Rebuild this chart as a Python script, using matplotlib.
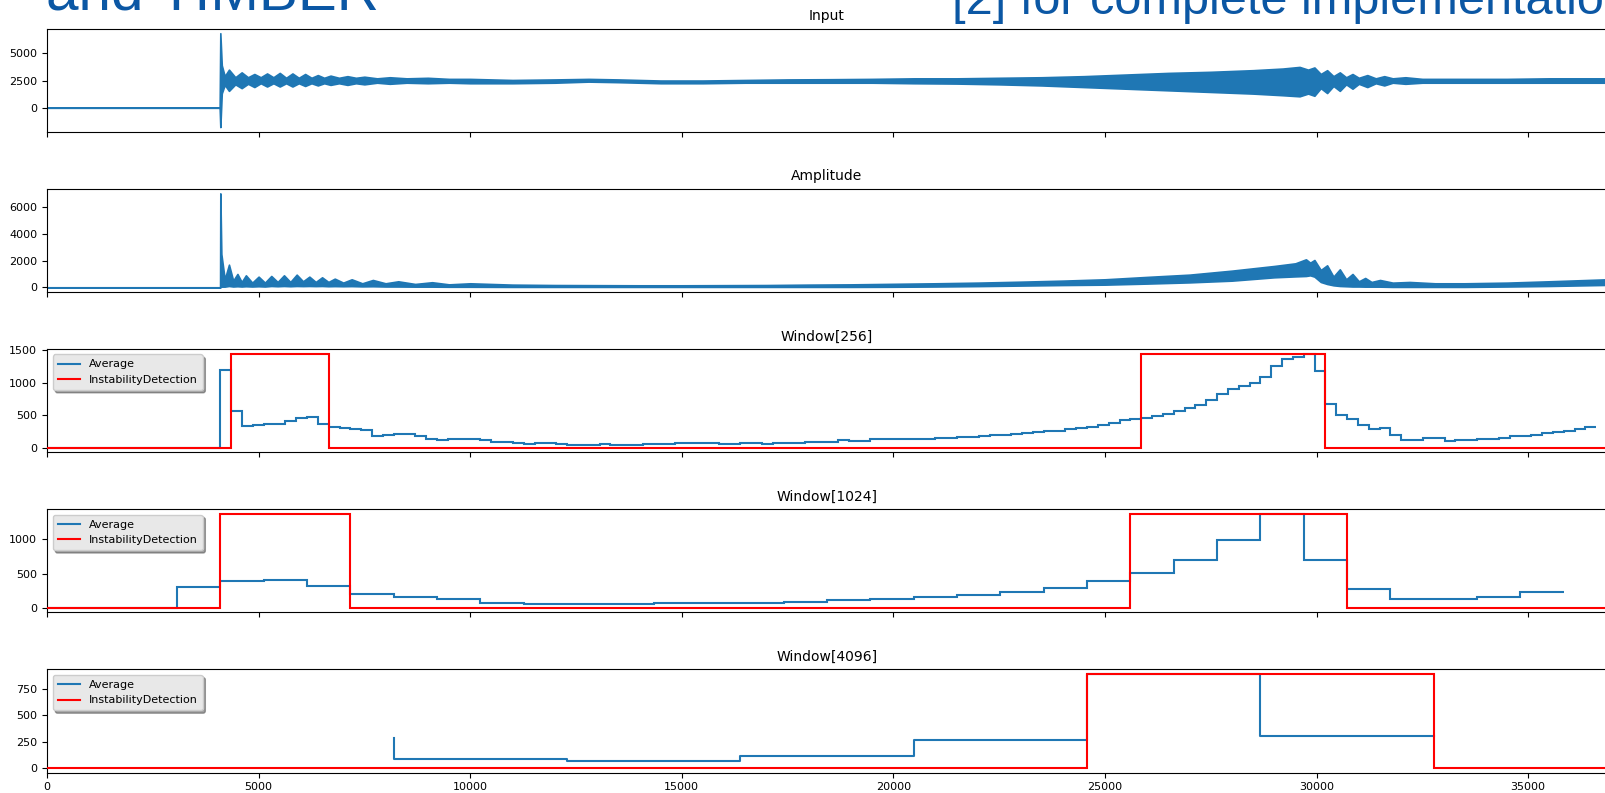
import numpy as np
import matplotlib
matplotlib.use("Agg")
import matplotlib.pyplot as plt
from matplotlib.lines import Line2D

# ---------------------------------------------------------------- data
N_SAMPLES = 36864

# Input signal, drawn as its oscillation envelope (sample, upper, lower)
input_x = [0, 4080, 4096, 4130, 4200, 4300, 4450, 4600, 4750, 4900, 5050, 5200,
           5350, 5500, 5650, 5800, 5950, 6100, 6250, 6400, 6550, 6700, 6900,
           7100, 7300, 7500, 7800, 8100, 8500, 9000, 9500, 10000, 11000, 12000,
           12800, 13500, 14500, 15500, 16500, 17500, 18500, 19500, 20500, 21500,
           22500, 23500, 24500, 25500, 26500, 27500, 28500, 29200, 29600, 29800,
           29950, 30100, 30250, 30400, 30550, 30700, 30850, 31000, 31200, 31400,
           31600, 31800, 32100, 32500, 33500, 34500, 35500, 36864]
input_hi = [0, 0, 6850, 3900, 2900, 3500, 2800, 3250, 2800, 3100, 2800, 3150,
            2800, 3200, 2750, 3150, 2750, 3100, 2750, 3000, 2750, 2950, 2750,
            2900, 2750, 2850, 2700, 2800, 2700, 2750, 2650, 2650, 2550, 2600,
            2650, 2600, 2500, 2500, 2550, 2600, 2620, 2650, 2700, 2700,
            2750, 2800, 2900, 3050, 3200, 3300, 3450, 3600, 3750, 3500,
            3700, 3100, 3450, 2900, 3250, 2800, 3100, 2750, 3000, 2700,
            2900, 2700, 2800, 2650, 2650, 2650, 2700, 2700]
input_lo = [0, 0, -1780, 1320, 2100, 1550, 2150, 1800, 2200, 1900, 2250, 1950,
            2250, 1950, 2250, 1950, 2250, 2000, 2250, 2050, 2250, 2100, 2250,
            2100, 2250, 2150, 2300, 2200, 2300, 2250, 2300, 2250, 2250, 2300,
            2400, 2350, 2250, 2250, 2300, 2300, 2300, 2300, 2250, 2220,
            2150, 2050, 1900, 1750, 1600, 1450, 1300, 1150, 1050, 1300,
            1100, 1800, 1350, 2000, 1550, 2150, 1750, 2200, 1900, 2250,
            2050, 2300, 2200, 2300, 2300, 2300, 2300, 2300]

# Amplitude, drawn as its envelope (sample, upper, lower)
amp_x = [0, 4090, 4096, 4120, 4200, 4300, 4400, 4500, 4600, 4700, 4850, 5000,
         5150, 5300, 5450, 5600, 5750, 5900, 6050, 6200, 6350, 6500, 6650,
         6800, 7000, 7200, 7450, 7700, 8000, 8300, 8700, 9100, 9500, 10000,
         11000, 12000, 13000, 14000, 15000, 16000, 17000, 18000, 19000, 20000,
         21000, 22000, 23000, 24000, 25000, 26000, 27000, 28000, 29000, 29500,
         29750, 29850, 29950, 30100, 30250, 30400, 30550, 30700, 30850, 31000,
         31150, 31300, 31500, 31800, 32200, 32800, 33500, 34500, 35500, 36864]
amp_hi = [0, 0, 7050, 2500, 600, 1700, 500, 1000, 400, 900, 350, 800,
          350, 850, 400, 900, 400, 950, 450, 800, 400, 750, 400,
          650, 350, 600, 300, 550, 300, 450, 250, 380, 220, 300,
          200, 170, 160, 150, 150, 160, 170, 200, 220, 260,
          300, 350, 420, 500, 600, 780, 950, 1250, 1600, 1800,
          2100, 1850, 2050, 1300, 1650, 800, 1350, 600, 1000, 450,
          700, 400, 550, 350, 400, 300, 300, 350, 450, 600]
amp_lo = [0, 0, 0, 50, 50, 100, 60, 80, 60, 80, 60, 80,
          60, 100, 80, 100, 80, 100, 90, 100, 90, 100, 80,
          90, 80, 90, 70, 80, 60, 60, 50, 50, 40, 40,
          30, 30, 30, 30, 30, 30, 30, 30, 30, 40,
          60, 90, 130, 170, 200, 280, 370, 500, 750, 820,
          850, 900, 800, 400, 250, 150, 100, 80, 60, 60,
          50, 50, 50, 30, 30, 30, 30, 60, 100, 180]

# Window[256]: average per 256-sample window
win256 = [0] * 16 + [
    1200, 560, 334, 349, 359, 359, 405, 461, 471, 364, 323, 307, 282, 267,
    185, 195, 205, 205, 185, 134, 118, 139, 134, 134, 118, 92, 92, 72, 56,
    72, 72, 56, 46, 46, 46, 56, 46, 46, 46, 56, 56, 56, 72, 72, 72, 72, 56,
    56, 72, 72, 56, 72, 72, 72, 87, 87, 87, 113, 97, 108, 128, 128, 128,
    134, 134, 134, 154, 154, 169, 169, 185, 200, 200, 210, 226, 241, 262,
    262, 282, 303, 318, 349, 375, 426, 441, 457, 492, 523, 564, 605, 657,
    733, 821, 903, 954, 1000, 1093, 1262, 1359, 1400, 1450, 1180, 672, 508,
    446, 344, 282, 298, 200, 123, 123, 144, 144, 108, 123, 123, 133, 133,
    144, 170, 185, 200, 221, 236, 262, 282, 318]
det256_edges = [0, 4352, 6656, 25856, 30208, N_SAMPLES]
det256_level = [0, 1450, 0, 1450, 0]

# Window[1024]: average per 1024-sample window
win1024 = [0, 0, 0, 300, 388, 405, 321, 199, 150, 131, 72, 58, 49, 49, 63,
           63, 63, 87, 111, 126, 155, 180, 228, 286, 384, 510, 704, 991,
           1375, 700, 271, 130, 121, 155, 228]
det1024_edges = [0, 4096, 7168, 25600, 30720, N_SAMPLES]
det1024_level = [0, 1375, 0, 1375, 0]

# Window[4096]: average at window boundaries
win4096_x = [8192, 12288, 16384, 20480, 24576, 28672, 32768]
win4096 = [280, 80, 65, 115, 265, 890, 305]
det4096_edges = [0, 24576, 32768, N_SAMPLES]
det4096_level = [0, 890, 0]

# ---------------------------------------------------------------- figure
W, H = 1605, 793
fig = plt.figure(figsize=(W / 100, H / 100), dpi=100)

BLUE = "#1f77b4"
RED = "red"
left_px, right_px = 47, 1607
top0_px, step_px, height_px = 28.5, 160.2, 103.3

axes = []
for i in range(5):
    top = top0_px + i * step_px
    rect = [left_px / W, 1 - (top + height_px) / H,
            (right_px - left_px) / W, height_px / H]
    ax = fig.add_axes(rect, sharex=axes[0] if axes else None)
    axes.append(ax)


def pad_ylim(ax, lo, hi):
    r = hi - lo
    ax.set_ylim(lo - 0.05 * r, hi + 0.05 * r)


# Input
ax = axes[0]
ax.fill_between(input_x, input_lo, input_hi, color=BLUE, lw=1.2)
pad_ylim(ax, min(input_lo), max(input_hi))
ax.set_yticks([0, 2500, 5000])
ax.set_title("Input", fontsize=10)

# Amplitude
ax = axes[1]
ax.fill_between(amp_x, amp_lo, amp_hi, color=BLUE, lw=1.2)
pad_ylim(ax, min(amp_lo), max(amp_hi))
ax.set_yticks([0, 2000, 4000, 6000])
ax.set_title("Amplitude", fontsize=10)

# Window[256]
ax = axes[2]
edges256 = np.arange(len(win256) + 1) * 256
ax.stairs(win256, edges256, baseline=None, color=BLUE, lw=1.5, zorder=2)
ax.stairs(det256_level, det256_edges, baseline=None, color=RED, lw=1.5,
          zorder=3)
pad_ylim(ax, 0, max(det256_level))
ax.set_yticks([0, 500, 1000, 1500])
ax.set_title("Window[256]", fontsize=10)

# Window[1024]
ax = axes[3]
edges1024 = np.arange(len(win1024) + 1) * 1024
ax.stairs(win1024, edges1024, baseline=None, color=BLUE, lw=1.5, zorder=2)
ax.stairs(det1024_level, det1024_edges, baseline=None, color=RED, lw=1.5,
          zorder=3)
pad_ylim(ax, 0, max(det1024_level))
ax.set_yticks([0, 500, 1000])
ax.set_title("Window[1024]", fontsize=10)

# Window[4096]
ax = axes[4]
ax.plot(win4096_x, win4096, drawstyle="steps-pre", color=BLUE, lw=1.5,
        zorder=2)
ax.stairs(det4096_level, det4096_edges, baseline=None, color=RED, lw=1.5,
          zorder=3)
pad_ylim(ax, 0, max(det4096_level))
ax.set_yticks([0, 250, 500, 750])
ax.set_title("Window[4096]", fontsize=10)

for ax in axes[2:]:
    handles = [Line2D([], [], color=BLUE, lw=1.5),
               Line2D([], [], color=RED, lw=1.5)]
    leg = ax.legend(handles, ["Average", "InstabilityDetection"],
                    loc="upper left", fontsize=8, shadow=True, framealpha=1,
                    facecolor="#e8e8e8", edgecolor="#cccccc", fancybox=True,
                    borderpad=0.45)
    leg.set_zorder(5)

axes[0].set_xlim(0, N_SAMPLES)
axes[0].set_xticks(np.arange(0, 40000, 5000))
for ax in axes:
    ax.tick_params(labelsize=8)
for ax in axes[:-1]:
    ax.tick_params(labelbottom=False)

# Slide text running across the top edge
TEXT_BLUE = "#0b57a4"
fig.text(46 / W, 1 - 10 / H, "and TIMBER", fontsize=42, color=TEXT_BLUE,
         family="Liberation Sans", va="baseline", ha="left")
fig.text(952 / W, 1 - 14 / H, "[2] for complete implementation", fontsize=35,
         color=TEXT_BLUE, family="Liberation Sans", va="baseline", ha="left")

fig.savefig("out.png", dpi=100)
